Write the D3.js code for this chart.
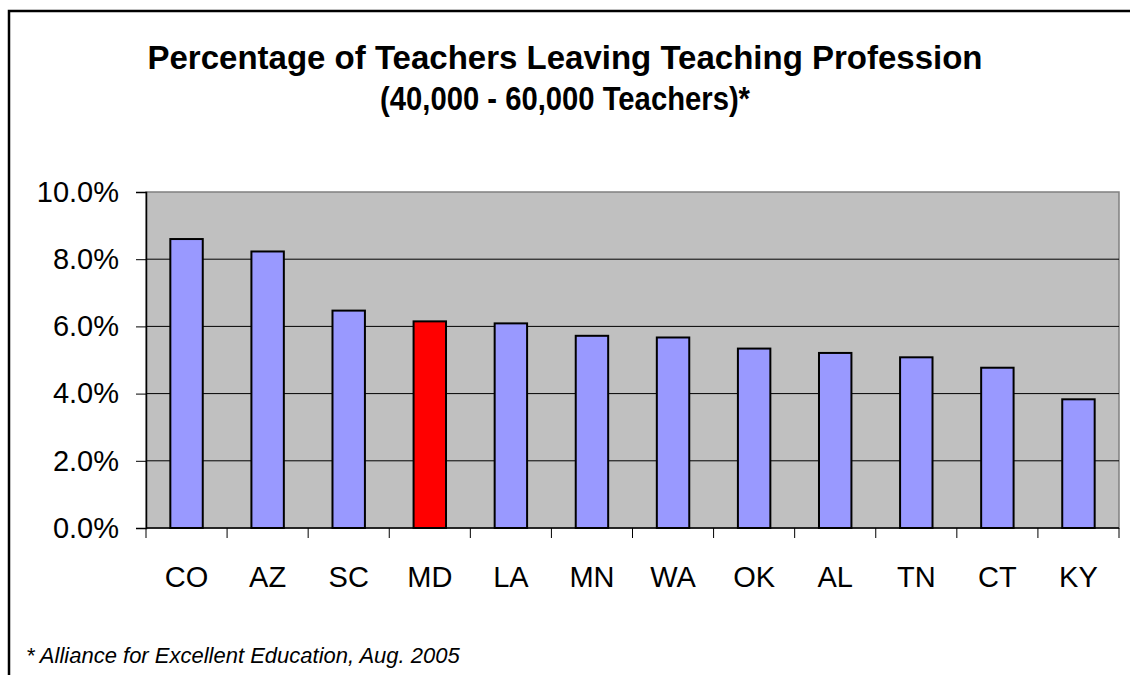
<!DOCTYPE html>
<html>
<head>
<meta charset="utf-8">
<script src="https://cdn.jsdelivr.net/npm/d3@7"></script>
<style>
  body { margin: 0; background: #fff; }
  svg { display: block; font-family: "Liberation Sans", Arial, sans-serif; }
</style>
</head>
<body>
<div id="chart"></div>
<script>
// data
var states = ["CO", "AZ", "SC", "MD", "LA", "MN", "WA", "OK", "AL", "TN", "CT", "KY"];
var leaving = [8.6, 8.23, 6.47, 6.15, 6.09, 5.72, 5.67, 5.34, 5.21, 5.08, 4.77, 3.83];
var highlight = ["MD"];
var yTicks = [0, 2, 4, 6, 8, 10];
var titleLines = ["Percentage of Teachers Leaving Teaching Profession", "(40,000 - 60,000 Teachers)*"];
var footnote = "* Alliance for Excellent Education, Aug. 2005";

var W = 1130, H = 675;
var margin = {top: 192, right: 11, bottom: 147, left: 146},
    width = W - margin.left - margin.right,
    height = H - margin.top - margin.bottom;

var svg = d3.select("#chart").append("svg")
    .attr("width", W)
    .attr("height", H);

// outer chart frame (runs off the right and bottom edges)
svg.append("rect")
    .attr("x", 9).attr("y", 11)
    .attr("width", W + 20).attr("height", H + 20)
    .attr("fill", "none")
    .attr("stroke", "#000")
    .attr("stroke-width", 2.5);

// title - the original font is a bit condensed, so fit each line to its width
var titleWidths = [835, 370];
svg.selectAll(".title")
    .data(titleLines)
  .enter().append("text")
    .attr("class", "title")
    .attr("x", 565)
    .attr("y", function(d, i) { return 69 + i * 41; })
    .attr("text-anchor", "middle")
    .attr("font-size", 33)
    .attr("font-weight", "bold")
    .attr("textLength", function(d, i) { return titleWidths[i]; })
    .attr("lengthAdjust", "spacingAndGlyphs")
    .text(function(d) { return d; });

var g = svg.append("g")
    .attr("transform", "translate(" + margin.left + "," + margin.top + ")");

var x = d3.scaleBand()
    .domain(states)
    .range([0, width])
    .padding(0);

var y = d3.scaleLinear()
    .domain([0, 10])
    .range([height, 0]);

// plot area
g.append("rect")
    .attr("width", width)
    .attr("height", height)
    .attr("fill", "#c0c0c0")
    .attr("stroke", "#808080")
    .attr("stroke-width", 1.5);

// gridlines
g.selectAll(".grid")
    .data(yTicks.slice(1, -1))
  .enter().append("line")
    .attr("class", "grid")
    .attr("x1", 0).attr("x2", width)
    .attr("y1", function(d) { return y(d); })
    .attr("y2", function(d) { return y(d); })
    .attr("stroke", "#000")
    .attr("stroke-width", 1);

// bars, 40% of each band (gap width 150%)
var barW = x.bandwidth() * 0.4;
g.selectAll(".bars")
    .data(states)
  .enter().append("rect")
    .attr("class", "bars")
    .attr("x", function(d) { return x(d) + (x.bandwidth() - barW) / 2; })
    .attr("width", barW)
    .attr("y", function(d, i) { return y(leaving[i]); })
    .attr("height", function(d, i) { return height - y(leaving[i]); })
    .attr("fill", function(d) { return highlight.indexOf(d) >= 0 ? "#ff0000" : "#9999ff"; })
    .attr("stroke", "#000")
    .attr("stroke-width", 2);

// y axis
var yAxis = g.append("g")
    .call(d3.axisLeft(y)
      .tickValues(yTicks)
      .tickSize(10)
      .tickPadding(17)
      .tickFormat(function(d) { return d.toFixed(1) + "%"; }));
yAxis.select(".domain").attr("stroke", "#000").attr("stroke-width", 1.5);
yAxis.selectAll(".tick line").attr("stroke", "#000");
yAxis.selectAll("text")
    .attr("font-size", 29)
    .attr("font-family", "Liberation Sans, Arial, sans-serif")
    .attr("fill", "#000");

// x axis: ticks on band boundaries, labels centred
var xAxis = g.append("g")
    .attr("transform", "translate(0," + height + ")");
xAxis.append("line")
    .attr("x1", 0).attr("x2", width)
    .attr("stroke", "#000").attr("stroke-width", 1.5);
xAxis.selectAll(".xtick")
    .data(states.concat(["end"]))
  .enter().append("line")
    .attr("class", "xtick")
    .attr("x1", function(d, i) { return i < states.length ? x(d) : width; })
    .attr("x2", function(d, i) { return i < states.length ? x(d) : width; })
    .attr("y1", 0).attr("y2", 10)
    .attr("stroke", "#000");
xAxis.selectAll(".xlabel")
    .data(states)
  .enter().append("text")
    .attr("class", "xlabel")
    .attr("x", function(d) { return x(d) + x.bandwidth() / 2; })
    .attr("y", 59)
    .attr("text-anchor", "middle")
    .attr("font-size", 29)
    .text(function(d) { return d; });

// footnote
svg.append("text")
    .attr("x", 26)
    .attr("y", 663)
    .attr("font-size", 22)
    .attr("font-style", "italic")
    .text(footnote);
</script>
</body>
</html>
